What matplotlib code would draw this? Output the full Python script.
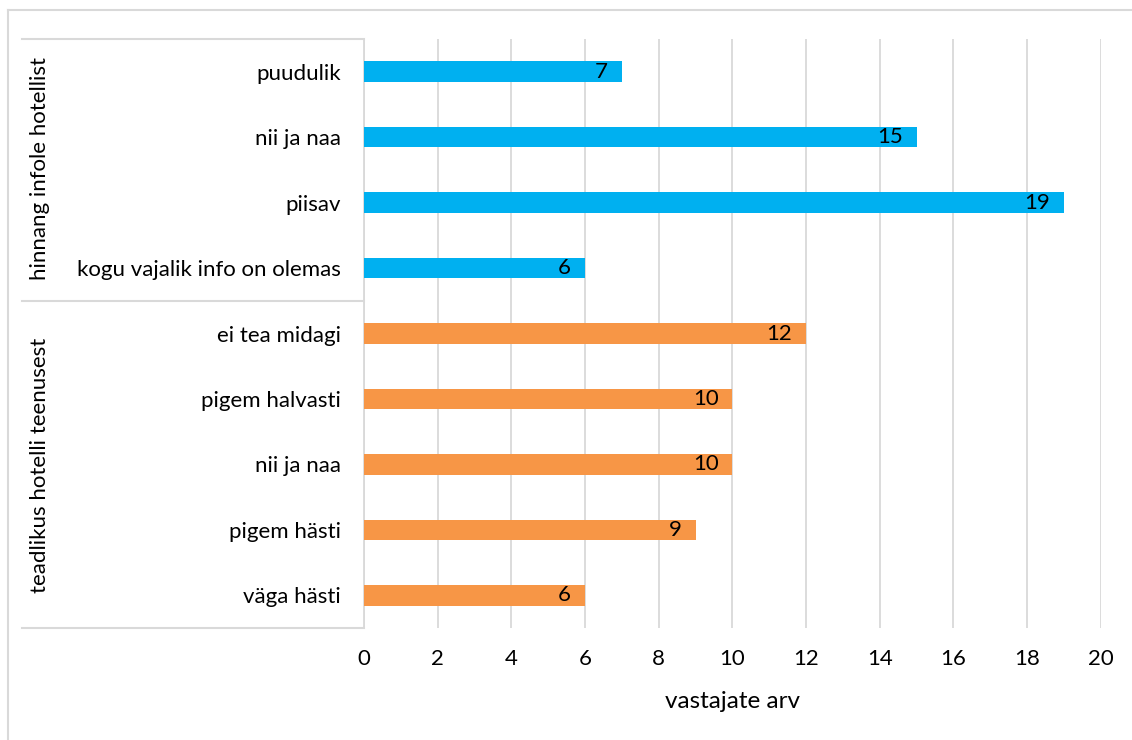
import matplotlib
matplotlib.use("Agg")
import matplotlib.pyplot as plt
from matplotlib.lines import Line2D

# Survey answers (number of respondents)
info_labels = ["puudulik", "nii ja naa", "piisav", "kogu vajalik info on olemas"]
info_values = [7, 15, 19, 6]
aware_labels = ["ei tea midagi", "pigem halvasti", "nii ja naa", "pigem hästi", "väga hästi"]
aware_values = [12, 10, 10, 9, 6]
group_names = ["hinnang infole hotellist", "teadlikus hotelli teenusest"]
x_ticks = [0, 2, 4, 6, 8, 10, 12, 14, 16, 18, 20]
x_title = "vastajate arv"

plt.rcParams["font.family"] = ["Lato", "DejaVu Sans"]

W, H = 1132, 740
fig = plt.figure(figsize=(W / 100, H / 100), dpi=100)
fig.patch.set_facecolor("white")

def fx(px):
    return px / W

def fy(py):
    return 1 - py / H

left, right, top, bottom = 364, 1100.7, 39, 628
ax = fig.add_axes([fx(left), fy(bottom), fx(right) - fx(left), fy(top) - fy(bottom)])

blue = "#00B0F0"
orange = "#F79646"
grid_c = "#D9D9D9"
fs = 16

labels = info_labels + aware_labels
values = info_values + aware_values
colors = [blue] * len(info_values) + [orange] * len(aware_values)
ypos = list(range(len(labels)))

bars = ax.barh(ypos, values, height=0.315, color=colors, zorder=3)
for b, v in zip(bars, values):
    ax.annotate(str(v), xy=(v, b.get_y() + b.get_height() / 2), xytext=(-10, 0),
                textcoords="offset points", ha="right", va="center",
                fontsize=fs, color="black", zorder=4)

ax.set_xlim(0, 20)
ax.set_ylim(len(labels) - 0.5, -0.5)
ax.set_xticks(x_ticks)
ax.set_xticklabels([str(t) for t in x_ticks], fontsize=fs)
ax.set_yticks(ypos)
ax.set_yticklabels(labels, fontsize=fs)
ax.tick_params(axis="x", length=0, pad=15)
ax.tick_params(axis="y", length=0, pad=16.5)
ax.grid(axis="x", color=grid_c, linewidth=1.3, zorder=0)
for s in ["top", "right", "bottom"]:
    ax.spines[s].set_visible(False)
ax.spines["left"].set_color(grid_c)
ax.spines["left"].set_linewidth(1.3)
ax.set_xlabel(x_title, fontsize=17.5, labelpad=16)

# Category table lines on the left
for py in (top, 301, bottom):
    fig.add_artist(Line2D([fx(22), fx(left)], [fy(py), fy(py)], color=grid_c, linewidth=1.5))

# Group titles, rotated
fig.text(fx(40), fy(168), group_names[0], rotation=90, ha="center", va="center", fontsize=fs)
fig.text(fx(40), fy(465), group_names[1], rotation=90, ha="center", va="center", fontsize=fs)

# Outer chart frame
fig.add_artist(Line2D([fx(8), 1], [fy(10), fy(10)], color=grid_c, linewidth=1.5))
fig.add_artist(Line2D([fx(8), fx(8)], [fy(10), 0], color=grid_c, linewidth=1.5))

fig.savefig("out.png", dpi=100)
